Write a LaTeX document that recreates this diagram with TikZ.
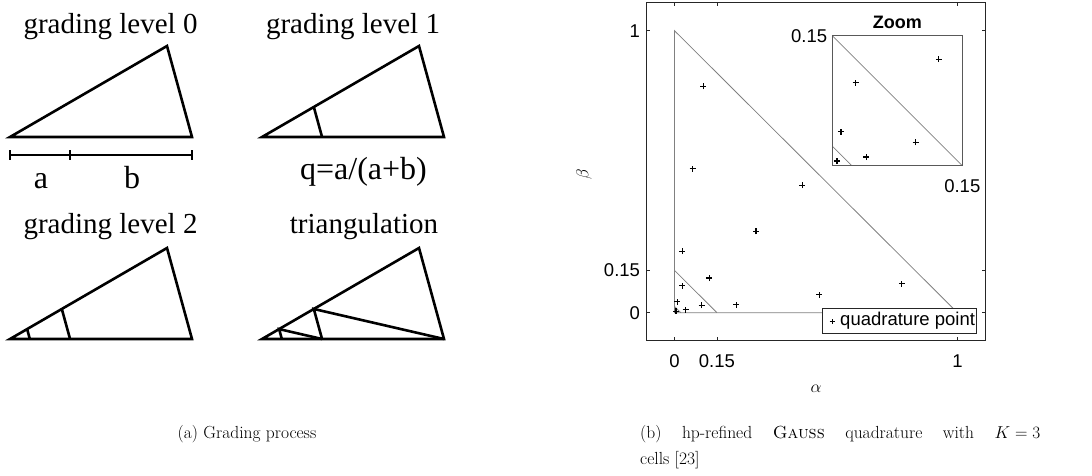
\documentclass[tikz,border=0pt]{standalone}
\usepackage{fontspec}
\usetikzlibrary{calc}
\newfontfamily\gradefont{Liberation Serif}
\newfontfamily\plotfont{Liberation Sans}
\definecolor{outline}{gray}{0.5}
\definecolor{frame}{gray}{0.15}
\definecolor{zoomframe}{gray}{0.35}
\tikzset{
  tri/.style={line width=2.6pt,line join=miter},
  span/.style={line width=1.9pt},
  headline/.style={font=\gradefont\fontsize{29}{33}\selectfont,anchor=base,inner sep=0pt},
  seglabel/.style={font=\gradefont\fontsize{32}{36}\selectfont,anchor=base,inner sep=0pt},
  cell/.style={draw=outline,line width=0.8pt},
  axisbox/.style={draw=frame,line width=0.9pt},
  qpt/.style={draw=black,line width=1.1pt},
  ticklabel/.style={font=\plotfont\fontsize{18.5}{21}\selectfont,inner sep=0pt},
  captext/.style={font=\fontsize{17.5}{26}\selectfont,inner sep=0pt}
}
\def\qpoints{0.102/0.803,0.803/0.102,0.064/0.511,0.511/0.064,0.452/0.452,0.288/0.288,
  0.028/0.218,0.218/0.028,0.123/0.123,0.027/0.096,0.096/0.027,0.010/0.039,0.039/0.010,0.0054/0.0054}
\begin{document}
\begin{tikzpicture}[x=1pt,y=-1pt]
\useasboundingbox (0,0) rectangle (1092,475);

% grading triangles
\foreach \p/\dx/\dy in {0/0/0,1/252/0,2/0/202,3/252/202}{
  \coordinate (a\p) at (10+\dx,137+\dy);
  \coordinate (b\p) at (192+\dx,137+\dy);
  \coordinate (c\p) at (167+\dx,46+\dy);
  \draw[tri] (a\p) -- (b\p) -- (c\p) -- cycle;
}
\node[headline] (head0) at (110.5,33) {grading level 0};
\node[headline] (head1) at (353,33) {grading level 1};
\node[headline] (head2) at (110.5,233) {grading level 2};
\node[headline] (head3) at (364,233) {triangulation};

% segment a, b
\coordinate (sa) at (10,155);
\coordinate (sm) at (70,155);
\coordinate (sb) at (192,155);
\draw[span] (sa) -- (sb);
\foreach \s in {sa,sm,sb}
  \draw[span] ($(\s)+(0,-5)$) -- ($(\s)+(0,5)$);
\node[seglabel] (lbla) at (41,188) {a};
\node[seglabel] (lblb) at (132,188) {b};
\node[seglabel] (lblq) at (363.5,179) {q=a/(a+b)};

% cuts
\coordinate (u1) at ($(a1)!0.33!(b1)$);
\coordinate (v1) at ($(a1)!0.33!(c1)$);
\draw[tri] (u1) -- (v1);
\coordinate (u2) at ($(a2)!0.33!(b2)$);
\coordinate (v2) at ($(a2)!0.33!(c2)$);
\coordinate (w2) at ($(a2)!0.109!(b2)$);
\coordinate (x2) at ($(a2)!0.109!(c2)$);
\draw[tri] (u2) -- (v2);
\draw[tri] (w2) -- (x2);
\coordinate (u3) at ($(a3)!0.33!(b3)$);
\coordinate (v3) at ($(a3)!0.33!(c3)$);
\coordinate (w3) at ($(a3)!0.109!(b3)$);
\coordinate (x3) at ($(a3)!0.109!(c3)$);
\draw[tri] (u3) -- (v3) -- (b3);
\draw[tri] (w3) -- (x3) -- (u3);

% quadrature plot
\begin{scope}[shift={(674.5,312.7)},x={(283pt,0pt)},y={(0pt,282pt)}]
  \draw[axisbox] (-0.1,-0.1) rectangle (1.1,1.1);
  \draw[cell] (0,0) -- (1,0) -- (0,1) -- cycle;
  \draw[cell] (0,0.15) -- (0.15,0);
  \draw[cell] (0,0.0225) -- (0.0225,0);
  \foreach \t in {0,0.15,1}{
    \draw[axisbox] (\t,-0.1) -- ++(0pt,3.5pt);
    \draw[axisbox] (\t,1.1) -- ++(0pt,-3.5pt);
    \draw[axisbox] (-0.1,\t) -- ++(3.5pt,0pt);
    \draw[axisbox] (1.1,\t) -- ++(-3.5pt,0pt);
    \node[ticklabel,anchor=base] at ($(\t,-0.1)+(0pt,-27pt)$) {\t};
    \node[ticklabel,anchor=east] at ($(-0.1,\t)+(-6pt,0pt)$) {\t};
  }
  \foreach \a/\b in \qpoints
    \draw[qpt] (\a,\b) +(-3pt,0pt) -- +(3pt,0pt) (\a,\b) +(0pt,-3pt) -- +(0pt,3pt);
  \node[font=\fontsize{19}{22}\selectfont,rotate=90] (ylab) at (-0.32,0.49) {$\beta$};
  \node[font=\fontsize{19}{22}\selectfont] (xlab) at (0.5,-0.27) {$\alpha$};
  % legend
  \node[draw=frame,fill=white,line width=0.9pt,minimum width=154pt,minimum height=25pt,inner sep=0pt]
    (legend) at (0.795,-0.03) {};
  \coordinate (lmark) at ($(legend.west)+(10pt,0pt)$);
  \draw[qpt,line width=0.9pt] (lmark) +(-2.5pt,0pt) -- +(2.5pt,0pt) (lmark) +(0pt,-2.5pt) -- +(0pt,2.5pt);
  \node[ticklabel,anchor=west] (legtext) at ($(legend.west)+(18pt,0pt)$) {quadrature point};
\end{scope}

% zoom inset
\begin{scope}[shift={(832.3,165.7)},x={(866.7pt,0pt)},y={(0pt,866.7pt)}]
  \begin{scope}
    \clip (0,0) rectangle (0.15,0.15);
    \draw[cell] (0,0.15) -- (0.15,0);
    \draw[cell] (0,0.0225) -- (0.0225,0);
    \foreach \a/\b in \qpoints
      \draw[qpt] (\a,\b) +(-3pt,0pt) -- +(3pt,0pt) (\a,\b) +(0pt,-3pt) -- +(0pt,3pt);
  \end{scope}
  \draw[draw=zoomframe,line width=1.5pt] (0,0) rectangle (0.15,0.15);
  \node[ticklabel,anchor=east] (ztop) at ($(0,0.15)+(-5pt,0pt)$) {0.15};
  \node[ticklabel] (zright) at ($(0.15,0)+(0pt,-20pt)$) {0.15};
  \node[ticklabel,font=\plotfont\bfseries\fontsize{18}{20}\selectfont] (ztitle) at ($(0.075,0.15)+(0pt,13pt)$) {Zoom};
\end{scope}

% captions
\node[captext,anchor=base] (capa) at (247,438) {(a) Grading process};
\node[captext,anchor=base west,text width=400pt,align=justify] (capb) at (640,438)
  {(b) hp-refined \textsc{Gauss} quadrature with ${K=3}$\linebreak cells [23]};
\end{tikzpicture}
\end{document}
